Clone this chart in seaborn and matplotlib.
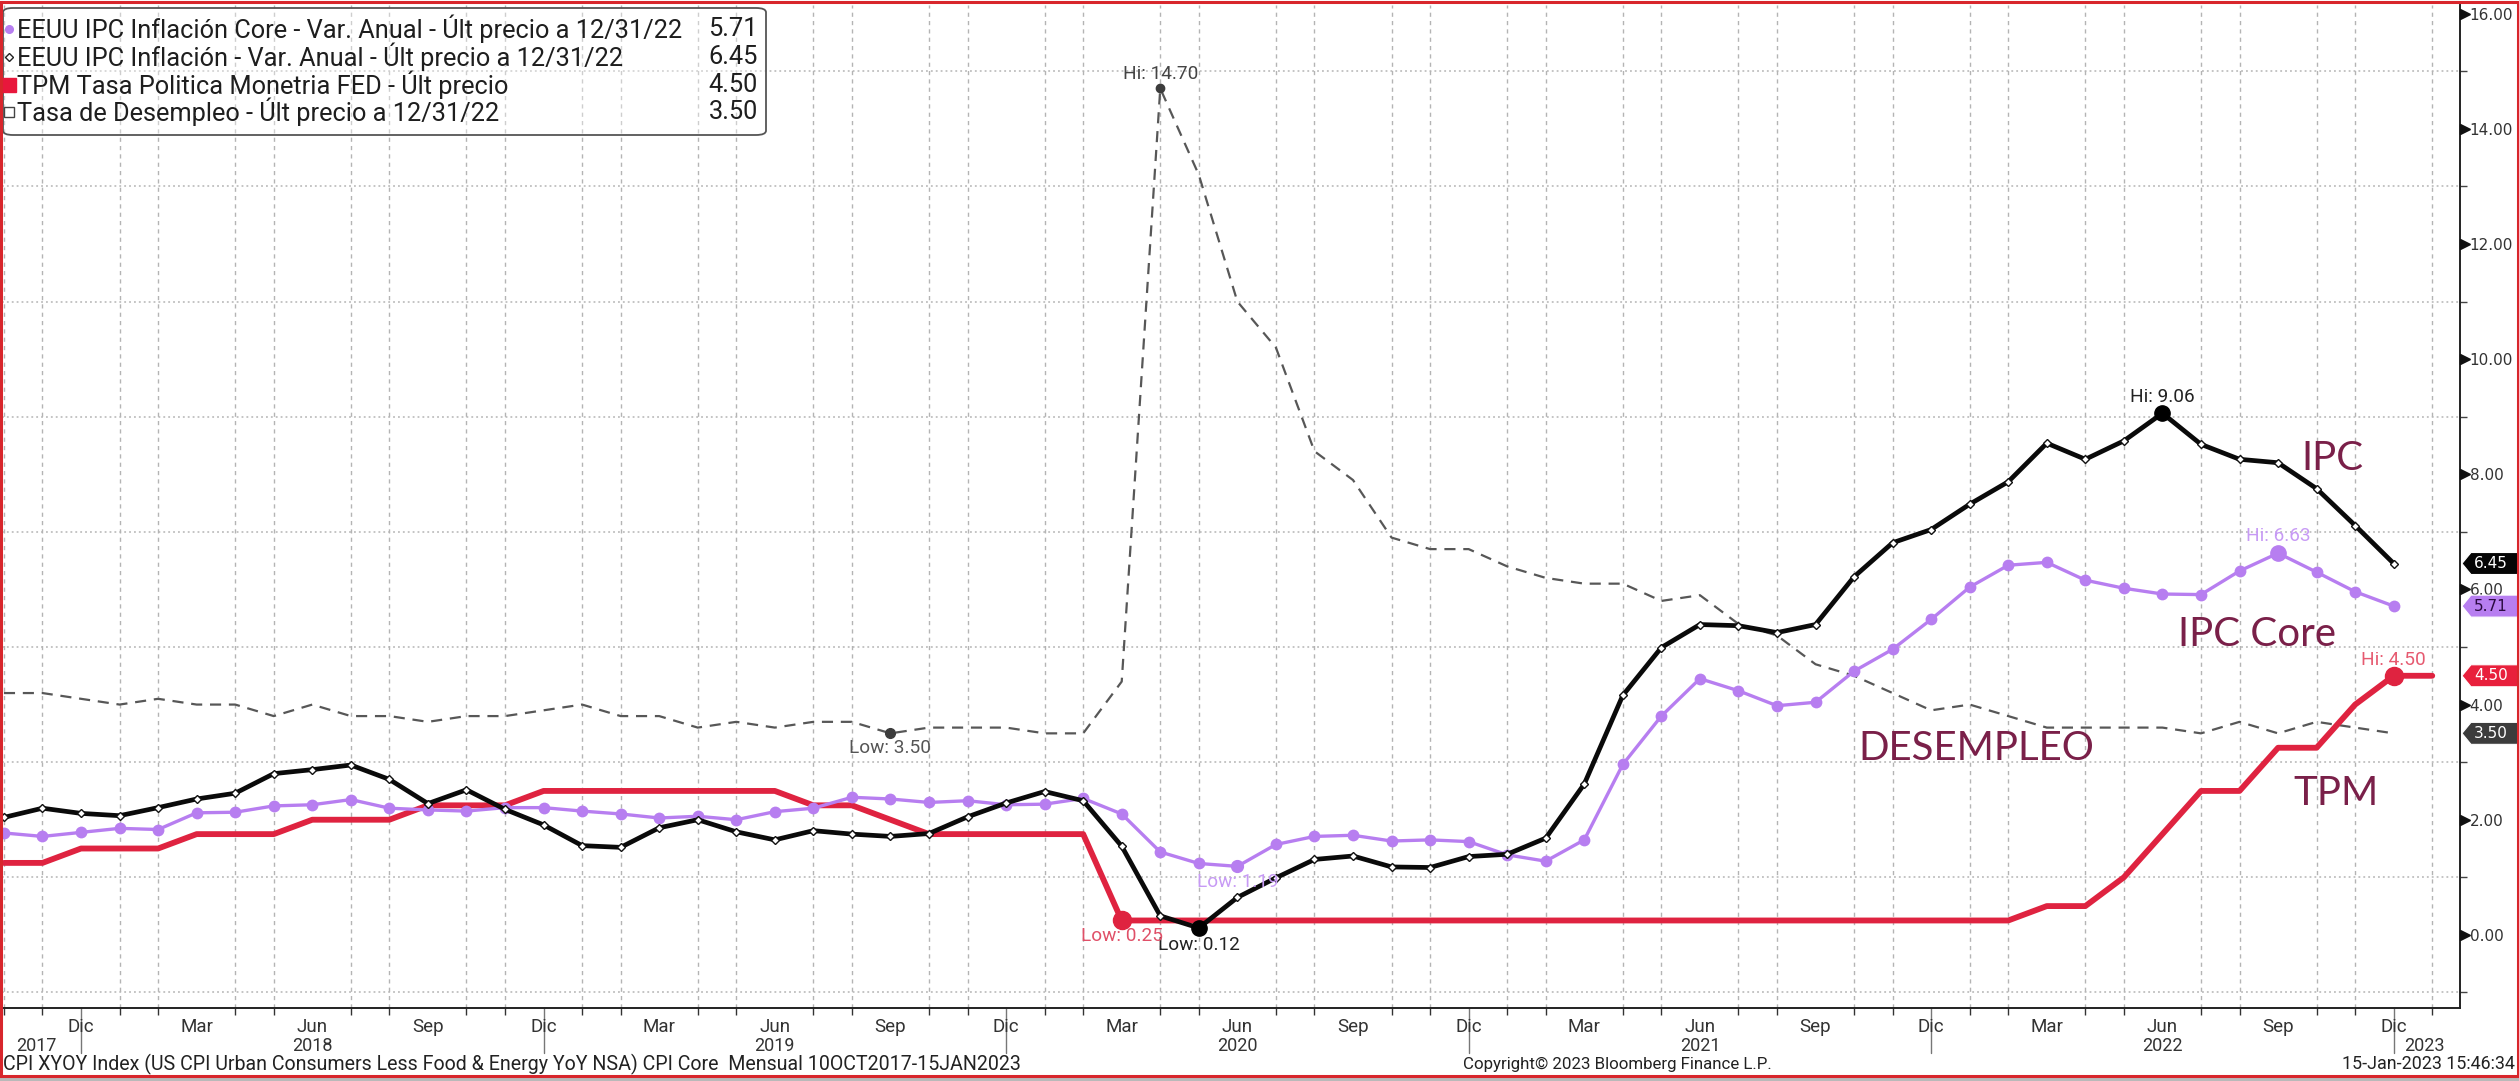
import numpy as np
import pandas as pd
import matplotlib
matplotlib.use("Agg")
import matplotlib.pyplot as plt
import seaborn as sns
from matplotlib import font_manager, transforms
from matplotlib.patches import Polygon, FancyBboxPatch, Rectangle
from matplotlib.lines import Line2D

# ---------------- data (monthly, Oct-2017 .. Dec-2022 / Jan-2023) ----------------
ipc = [2.04, 2.20, 2.11,
       2.07, 2.21, 2.36, 2.46, 2.80, 2.87, 2.95, 2.70, 2.28, 2.52, 2.18, 1.91,
       1.55, 1.52, 1.86, 2.00, 1.79, 1.65, 1.81, 1.75, 1.71, 1.76, 2.05, 2.29,
       2.49, 2.33, 1.54, 0.33, 0.12, 0.65, 0.99, 1.31, 1.37, 1.18, 1.17, 1.36,
       1.40, 1.68, 2.62, 4.16, 4.99, 5.39, 5.37, 5.25, 5.39, 6.22, 6.81, 7.04,
       7.48, 7.87, 8.54, 8.26, 8.58, 9.06, 8.52, 8.26, 8.20, 7.75, 7.11, 6.45]
ipc_core = [1.77, 1.71, 1.78,
            1.85, 1.83, 2.12, 2.13, 2.24, 2.26, 2.35, 2.20, 2.17, 2.15, 2.21, 2.21,
            2.15, 2.10, 2.03, 2.06, 2.00, 2.14, 2.20, 2.39, 2.36, 2.30, 2.33, 2.26,
            2.27, 2.37, 2.10, 1.44, 1.24, 1.19, 1.57, 1.71, 1.73, 1.63, 1.65, 1.62,
            1.39, 1.28, 1.65, 2.96, 3.80, 4.45, 4.24, 3.98, 4.04, 4.58, 4.96, 5.48,
            6.04, 6.42, 6.47, 6.16, 6.02, 5.92, 5.91, 6.32, 6.63, 6.30, 5.96, 5.71]
tpm = [1.25, 1.25, 1.50,
       1.50, 1.50, 1.75, 1.75, 1.75, 2.00, 2.00, 2.00, 2.25, 2.25, 2.25, 2.50,
       2.50, 2.50, 2.50, 2.50, 2.50, 2.50, 2.25, 2.25, 2.00, 1.75, 1.75, 1.75,
       1.75, 1.75, 0.25, 0.25, 0.25, 0.25, 0.25, 0.25, 0.25, 0.25, 0.25, 0.25,
       0.25, 0.25, 0.25, 0.25, 0.25, 0.25, 0.25, 0.25, 0.25, 0.25, 0.25, 0.25,
       0.25, 0.25, 0.50, 0.50, 1.00, 1.75, 2.50, 2.50, 3.25, 3.25, 4.00, 4.50,
       4.50]
desempleo = [4.2, 4.2, 4.1,
             4.0, 4.1, 4.0, 4.0, 3.8, 4.0, 3.8, 3.8, 3.7, 3.8, 3.8, 3.9,
             4.0, 3.8, 3.8, 3.6, 3.7, 3.6, 3.7, 3.7, 3.5, 3.6, 3.6, 3.6,
             3.5, 3.5, 4.4, 14.7, 13.2, 11.0, 10.2, 8.4, 7.9, 6.9, 6.7, 6.7,
             6.4, 6.2, 6.1, 6.1, 5.8, 5.9, 5.4, 5.2, 4.7, 4.5, 4.2, 3.9,
             4.0, 3.8, 3.6, 3.6, 3.6, 3.6, 3.5, 3.7, 3.5, 3.7, 3.6, 3.5]

quarter_labels = {3: "Mar", 6: "Jun", 9: "Sep", 12: "Dic"}
years = ["2017", "2018", "2019", "2020", "2021", "2022", "2023"]
year_label_pos = [0.85, 8, 20, 32, 44, 56, 62.8]

legend_names = ["EEUU IPC Inflación Core - Var. Anual - Últ precio a 12/31/22",
                "EEUU IPC Inflación - Var. Anual - Últ precio a 12/31/22",
                "TPM Tasa Politica Monetria FED - Últ precio",
                "Tasa de Desempleo - Últ precio a 12/31/22"]

footer_left = "CPI XYOY Index (US CPI Urban Consumers Less Food & Energy YoY NSA) CPI Core  Mensual 10OCT2017-15JAN2023"
footer_mid = "Copyright© 2023 Bloomberg Finance L.P."
footer_right = "15-Jan-2023 15:46:34"

# ---------------- frames ----------------
dates = pd.date_range("2017-10-01", periods=len(tpm), freq="MS")
df = pd.DataFrame({"idx": np.arange(len(tpm)), "tpm": tpm})
df_m = pd.DataFrame({"idx": np.arange(len(ipc)), "ipc": ipc, "core": ipc_core,
                     "desempleo": desempleo})

# ---------------- fonts ----------------
sns.set_theme(style="white")
avail = {f.name for f in font_manager.fontManager.ttflist}
if "Liberation Sans Narrow" in avail:
    NARROW = ["Liberation Sans Narrow", "DejaVu Sans"]
else:
    NARROW = ["Roboto", "DejaVu Sans"]
plt.rcParams["font.family"] = ["DejaVu Sans"]
BIG = ["Lato", "DejaVu Sans"]

C_IPC = "#0a0a0a"
C_CORE = "#b77ef0"
C_TPM = "#df2340"
C_DES = "#575757"
C_MAROON = "#7a2049"

W, H, DPI = 2519, 1081, 100
fig = plt.figure(figsize=(W / DPI, H / DPI), dpi=DPI)
fig.patch.set_facecolor("white")
ax = fig.add_axes([2 / W, (H - 1008) / H, (2460 - 2) / W, (1008 - 5) / H])
ax.set_facecolor("white")
renderer = fig.canvas.get_renderer()


def fit_width(t, target):
    w = t.get_window_extent(renderer).width
    fs = t.get_fontsize() * target / w
    t.set_fontsize(fs)
    return fs


# grid
YMIN, YMAX = -1.27, 16.15
ax.set_xlim(-0.05, 63.72)
ax.set_ylim(YMIN, YMAX)
ax.set_xticks(np.arange(0, 64), minor=True)
ax.set_yticks(np.arange(-1, 17), minor=True)
ax.grid(which="minor", axis="x", color="#b4b4b4", linestyle=(0, (3, 3)), linewidth=1.0)
ax.grid(which="minor", axis="y", color="#b4b4b4", linestyle=(0, (1.2, 2)), linewidth=1.1)
ax.set_axisbelow(True)

# series
sns.lineplot(data=df_m, x="idx", y="desempleo", ax=ax, color=C_DES, linewidth=1.6,
             linestyle=(0, (5, 3.5)), zorder=2, legend=False)
sns.lineplot(data=df, x="idx", y="tpm", ax=ax, color=C_TPM, linewidth=4.2,
             zorder=3, legend=False)
sns.lineplot(data=df_m, x="idx", y="core", ax=ax, color=C_CORE, linewidth=2.4,
             marker="o", markersize=8.5, markeredgewidth=0, zorder=4, legend=False)
sns.lineplot(data=df_m, x="idx", y="ipc", ax=ax, color=C_IPC, linewidth=3.4,
             marker="D", markersize=4.2, markerfacecolor="white", markeredgecolor="#111",
             markeredgewidth=1.0, zorder=5, legend=False)

# hi / low annotations
ipc_a, core_a, tpm_a, des_a = map(np.asarray, (ipc, ipc_core, tpm, desempleo))
marks = [
    (des_a, int(np.argmax(des_a)), "Hi", "#3c3c3c", "#444444", 6, 14),
    (des_a, int(np.argmin(des_a)), "Low", "#3c3c3c", "#555555", 7, -15),
    (ipc_a, int(np.argmax(ipc_a)), "Hi", "#000000", "#222222", 11, 16),
    (ipc_a, int(np.argmin(ipc_a)), "Low", "#000000", "#222222", 11, -17),
    (core_a, int(np.argmax(core_a)), "Hi", C_CORE, "#c79af5", 11, 17),
    (core_a, int(np.argmin(core_a)), "Low", C_CORE, "#c79af5", 8.5, -16),
    (tpm_a, int(np.argmax(tpm_a)), "Hi", C_TPM, "#e65a70", 13, 16),
    (tpm_a, int(np.argmin(tpm_a)), "Low", C_TPM, "#e05068", 13, -16),
]
ann = []
for arr, i, kind, mc, tc, ms, off in marks:
    ax.plot([i], [arr[i]], marker="o", markersize=ms, color=mc, zorder=6, linestyle="none")
    ann.append(ax.annotate(f"{kind}: {arr[i]:.2f}", xy=(i, arr[i]), xytext=(0, off),
                           textcoords="offset pixels", ha="center", va="center",
                           fontsize=14, family=NARROW, color=tc, zorder=7))
fs_ann = fit_width(ann[0], 76)
for t in ann[1:]:
    t.set_fontsize(fs_ann)

# big labels
for txt, xi, yv in [("IPC", 59.6, 8.28), ("IPC Core", 56.4, 5.21),
                    ("DESEMPLEO", 48.1, 3.23), ("TPM", 59.4, 2.45)]:
    ax.text(xi, yv, txt, fontsize=29, family=BIG, color=C_MAROON, ha="left", va="center",
            zorder=8)

# axes styling
for s in ["top", "left"]:
    ax.spines[s].set_visible(False)
for s in ["bottom", "right"]:
    ax.spines[s].set_color("#222222")
    ax.spines[s].set_linewidth(1.4)

rt = transforms.blended_transform_factory(ax.transAxes, ax.transData)
axw = ax.get_position().width * W
px = 1.0 / axw

ax.yaxis.tick_right()
yt = np.arange(0, 17, 2)
ax.set_yticks(yt)
ax.set_yticklabels([f"{v:.2f}" for v in yt], fontsize=11, color="#333333")
ax.tick_params(axis="y", which="major", length=0, pad=7, right=True, left=False)
ax.tick_params(axis="y", which="minor", length=5, width=1, color="#444444", right=True,
               left=False)
for v in yt:
    ax.plot([1.0 + 5 * px], [v], marker=">", markersize=7, color="#111111",
            transform=rt, clip_on=False, zorder=9, linestyle="none")

q_idx = [i for i, d in enumerate(dates) if d.month in quarter_labels and i < 63]
ax.set_xticks(q_idx)
ax.set_xticklabels([quarter_labels[dates[i].month] for i in q_idx], fontsize=13.5,
                   family=NARROW, color="#333333")
ax.tick_params(axis="x", which="major", length=5, width=1, color="#333333", pad=2,
               direction="out")
ax.tick_params(axis="x", which="minor", length=5, width=1, color="#333333",
               direction="out", bottom=True)
ax.set_xlabel("")
ax.set_ylabel("")

bt = transforms.blended_transform_factory(ax.transData, ax.transAxes)
for i in q_idx:
    if dates[i].month == 12:
        ax.add_line(Line2D([i, i], [0, -0.045], transform=bt, color="#777777", lw=1,
                           clip_on=False, zorder=0))
for yl, xp in zip(years, year_label_pos):
    ax.text(xp, -0.0375, yl, transform=bt, ha="center", va="center",
            fontsize=13, family=NARROW, color="#333333")

# right-side value tags
hh = 11 / (ax.get_position().height * H) * (YMAX - YMIN)
for val, bg, fg in [(ipc[-1], "#050505", "white"), (ipc_core[-1], "#b77ef0", "#2a0a40"),
                    (tpm[-1], "#e8203c", "white"), (desempleo[-1], "#3c3c3c", "white")]:
    x0 = 1.0 + 2 * px
    pts = [(x0, val), (x0 + 9 * px, val + hh), (1.0 + 70 * px, val + hh),
           (1.0 + 70 * px, val - hh), (x0 + 9 * px, val - hh)]
    ax.add_patch(Polygon(pts, closed=True, transform=rt, facecolor=bg, edgecolor="white",
                         lw=0.8, clip_on=False, zorder=10))
    ax.text(x0 + 12 * px, val, f"{val:.2f}", transform=rt, ha="left", va="center",
            fontsize=11, color=fg, zorder=11, clip_on=False)

# ---------------- legend box ----------------
def fpt(x, y):
    return (x / W, 1 - y / H)

lx0, ly0, lx1, ly1 = 3, 8, 766, 135
fig.patches.append(FancyBboxPatch(fpt(lx0, ly1), (lx1 - lx0) / W, (ly1 - ly0) / H,
                                  boxstyle="round,pad=0,rounding_size=0.004",
                                  transform=fig.transFigure, facecolor=(1, 1, 1, 0.35),
                                  edgecolor="#555555", lw=1.3, zorder=20))
rows = [29, 57, 85, 112]
vals = [ipc_core[-1], ipc[-1], tpm[-1], desempleo[-1]]
leg_texts = []
for r, name, v in zip(rows, legend_names, vals):
    leg_texts.append(fig.text(*fpt(17, r), name, ha="left", va="center", fontsize=17,
                              family=NARROW, color="#1e1e1e", zorder=21))
    leg_texts.append(fig.text(*fpt(758, r), f"{v:.2f}", ha="right", va="center",
                              fontsize=17, family=NARROW, color="#1e1e1e", zorder=21))
fs_leg = fit_width(leg_texts[0], 668)
for t in leg_texts:
    t.set_fontsize(fs_leg)
fig.lines.append(Line2D([fpt(9, 0)[0]], [fpt(0, rows[0])[1]], marker="o", markersize=5.5,
                        color=C_CORE, transform=fig.transFigure, zorder=22))
fig.lines.append(Line2D([fpt(9, 0)[0]], [fpt(0, rows[1])[1]], marker="D", markersize=4,
                        markerfacecolor="white", markeredgecolor="#222", markeredgewidth=1,
                        transform=fig.transFigure, zorder=22))
fig.lines.append(Line2D([fpt(9, 0)[0]], [fpt(0, rows[2])[1]], marker="s", markersize=10,
                        color="#e8173c", transform=fig.transFigure, zorder=22))
fig.lines.append(Line2D([fpt(9, 0)[0]], [fpt(0, rows[3])[1]], marker="s", markersize=7,
                        markerfacecolor="white", markeredgecolor="#444", markeredgewidth=1,
                        transform=fig.transFigure, zorder=22))

# ---------------- footer & frame ----------------
f1 = fig.text(*fpt(3, 1064), footer_left, ha="left", va="center", fontsize=13,
              family=NARROW, color="#222222")
f2 = fig.text(*fpt(1463, 1064), footer_mid, ha="left", va="center", fontsize=13,
              family=NARROW, color="#222222")
f3 = fig.text(*fpt(2515, 1064), footer_right, ha="right", va="center", fontsize=13,
              family=NARROW, color="#222222")
fit_width(f1, 1020)
fit_width(f2, 310)
fit_width(f3, 172)

fig.patches.append(Rectangle((0, 0), 1, 5 / H, transform=fig.transFigure,
                             facecolor="#b9b9b9", edgecolor="none", zorder=30))
fig.patches.append(Rectangle((1 / W, 5 / H), 1 - 2.5 / W, 1 - 6.5 / H,
                             transform=fig.transFigure, fill=False,
                             edgecolor="#d8262c", lw=2.2, zorder=31))

fig.savefig("out.png", dpi=DPI)
